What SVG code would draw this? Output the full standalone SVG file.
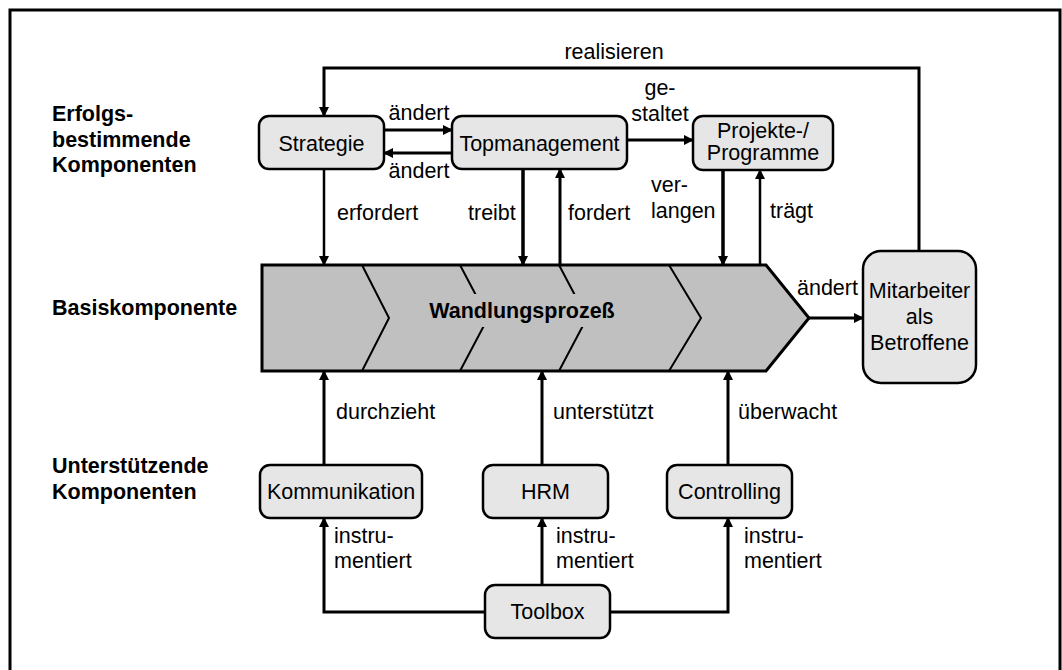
<svg xmlns="http://www.w3.org/2000/svg" width="1062" height="670" viewBox="0 0 1062 670">
<style>
  text { font-family: "Liberation Sans", Arial, sans-serif; font-size: 21.5px; fill: #000; }
  .b { font-weight: bold; }
  .c { text-anchor: middle; }
  .box { fill: #e6e6e6; stroke: #000; stroke-width: 2.5; }
  .con { fill: none; stroke: #000; stroke-width: 3; }
  .stripe { fill: none; stroke: #000; stroke-width: 2; }
</style>
<defs>
  <marker id="ah" viewBox="0 0 10 10" refX="9" refY="5" markerWidth="10" markerHeight="10" markerUnits="userSpaceOnUse" orient="auto">
    <path d="M0,0 L10,5 L0,10 z" fill="#000"/>
  </marker>
</defs>
<rect x="0" y="0" width="1062" height="670" fill="#fff"/>
<rect x="10" y="10" width="1050" height="680" fill="none" stroke="#000" stroke-width="3"/>

<g id="layer-labels">
  <text class="b" x="52" y="121">Erfolgs-</text>
  <text class="b" x="52" y="146.5">bestimmende</text>
  <text class="b" x="52" y="172">Komponenten</text>
  <text class="b" x="52" y="315">Basiskomponente</text>
  <text class="b" x="52" y="473">Unterstützende</text>
  <text class="b" x="52" y="499">Komponenten</text>
</g>

<g id="connectors">
  <path class="con" d="M919,251 V68 H324 V116" marker-end="url(#ah)"/>
  <path class="con" d="M384,130 H452" marker-end="url(#ah)"/>
  <path class="con" d="M452,153 H384" marker-end="url(#ah)"/>
  <path class="con" d="M627,140 H693" marker-end="url(#ah)"/>
  <path class="con" d="M324,169 V265" marker-end="url(#ah)" style="stroke-width:2.5"/>
  <path class="con" d="M523,169 V265" marker-end="url(#ah)" style="stroke-width:3.5"/>
  <path class="con" d="M560,265 V169" marker-end="url(#ah)"/>
  <path class="con" d="M723,170 V265" marker-end="url(#ah)" style="stroke-width:3.5"/>
  <path class="con" d="M760,265 V170" marker-end="url(#ah)" style="stroke-width:2.5"/>
  <path class="con" d="M809,318 H863" marker-end="url(#ah)"/>
  <path class="con" d="M324,465 V371" marker-end="url(#ah)"/>
  <path class="con" d="M542,465 V371" marker-end="url(#ah)"/>
  <path class="con" d="M728,465 V371" marker-end="url(#ah)"/>
  <path class="con" d="M485,612 H324 V518" marker-end="url(#ah)"/>
  <path class="con" d="M542,585 V518" marker-end="url(#ah)"/>
  <path class="con" d="M610,612 H728 V518" marker-end="url(#ah)"/>
  <text class="c" x="614" y="59">realisieren</text>
  <text class="c" x="419" y="120">ändert</text>
  <text class="c" x="419" y="178">ändert</text>
  <text class="c" x="660" y="95">ge-</text>
  <text class="c" x="660" y="121">staltet</text>
  <text x="337" y="220">erfordert</text>
  <text x="468" y="220">treibt</text>
  <text x="568" y="220">fordert</text>
  <text x="651" y="192">ver-</text>
  <text x="651" y="218">langen</text>
  <text x="770" y="218">trägt</text>
  <text x="797" y="295">ändert</text>
  <text x="336" y="419">durchzieht</text>
  <text x="553" y="419">unterstützt</text>
  <text x="738" y="419">überwacht</text>
  <text x="334" y="543">instru-</text>
  <text x="334" y="568">mentiert</text>
  <text x="556" y="543">instru-</text>
  <text x="556" y="568">mentiert</text>
  <text x="744" y="543">instru-</text>
  <text x="744" y="568">mentiert</text>
</g>

<g id="wandlungsprozess">
  <polygon points="262,265 766,265 809,318 766,371 262,371" fill="#c0c0c0" stroke="#000" stroke-width="3"/>
  <polyline class="stripe" points="362,265 389,318 362,371"/>
  <polyline class="stripe" points="460,265 488,318 460,371"/>
  <polyline class="stripe" points="559,265 587,318 559,371"/>
  <polyline class="stripe" points="669,265 701,318 669,371"/>
  <rect x="420" y="294" width="205" height="33" fill="#c0c0c0"/>
  <text class="b c" x="522" y="318">Wandlungsprozeß</text>
</g>

<g id="strategie">
  <rect class="box" x="259" y="116" width="125" height="53" rx="10"/>
  <text class="c" x="321.5" y="150.5">Strategie</text>
</g>
<g id="topmanagement">
  <rect class="box" x="452" y="116" width="175" height="53" rx="10"/>
  <text class="c" x="539.5" y="150.5">Topmanagement</text>
</g>
<g id="projekte">
  <rect class="box" x="693" y="116" width="140" height="54" rx="10"/>
  <text class="c" x="763" y="138">Projekte-/</text>
  <text class="c" x="763" y="160">Programme</text>
</g>
<g id="mitarbeiter">
  <rect class="box" x="863" y="251" width="113" height="132" rx="18"/>
  <text class="c" x="919.5" y="298">Mitarbeiter</text>
  <text class="c" x="919.5" y="324">als</text>
  <text class="c" x="919.5" y="350">Betroffene</text>
</g>
<g id="kommunikation">
  <rect class="box" x="260" y="465" width="162" height="53" rx="10"/>
  <text class="c" x="341" y="499">Kommunikation</text>
</g>
<g id="hrm">
  <rect class="box" x="483" y="465" width="125" height="53" rx="10"/>
  <text class="c" x="545.5" y="499">HRM</text>
</g>
<g id="controlling">
  <rect class="box" x="667" y="465" width="125" height="53" rx="10"/>
  <text class="c" x="729.5" y="499">Controlling</text>
</g>
<g id="toolbox">
  <rect class="box" x="485" y="585" width="125" height="53" rx="10"/>
  <text class="c" x="547.5" y="619">Toolbox</text>
</g>
</svg>
